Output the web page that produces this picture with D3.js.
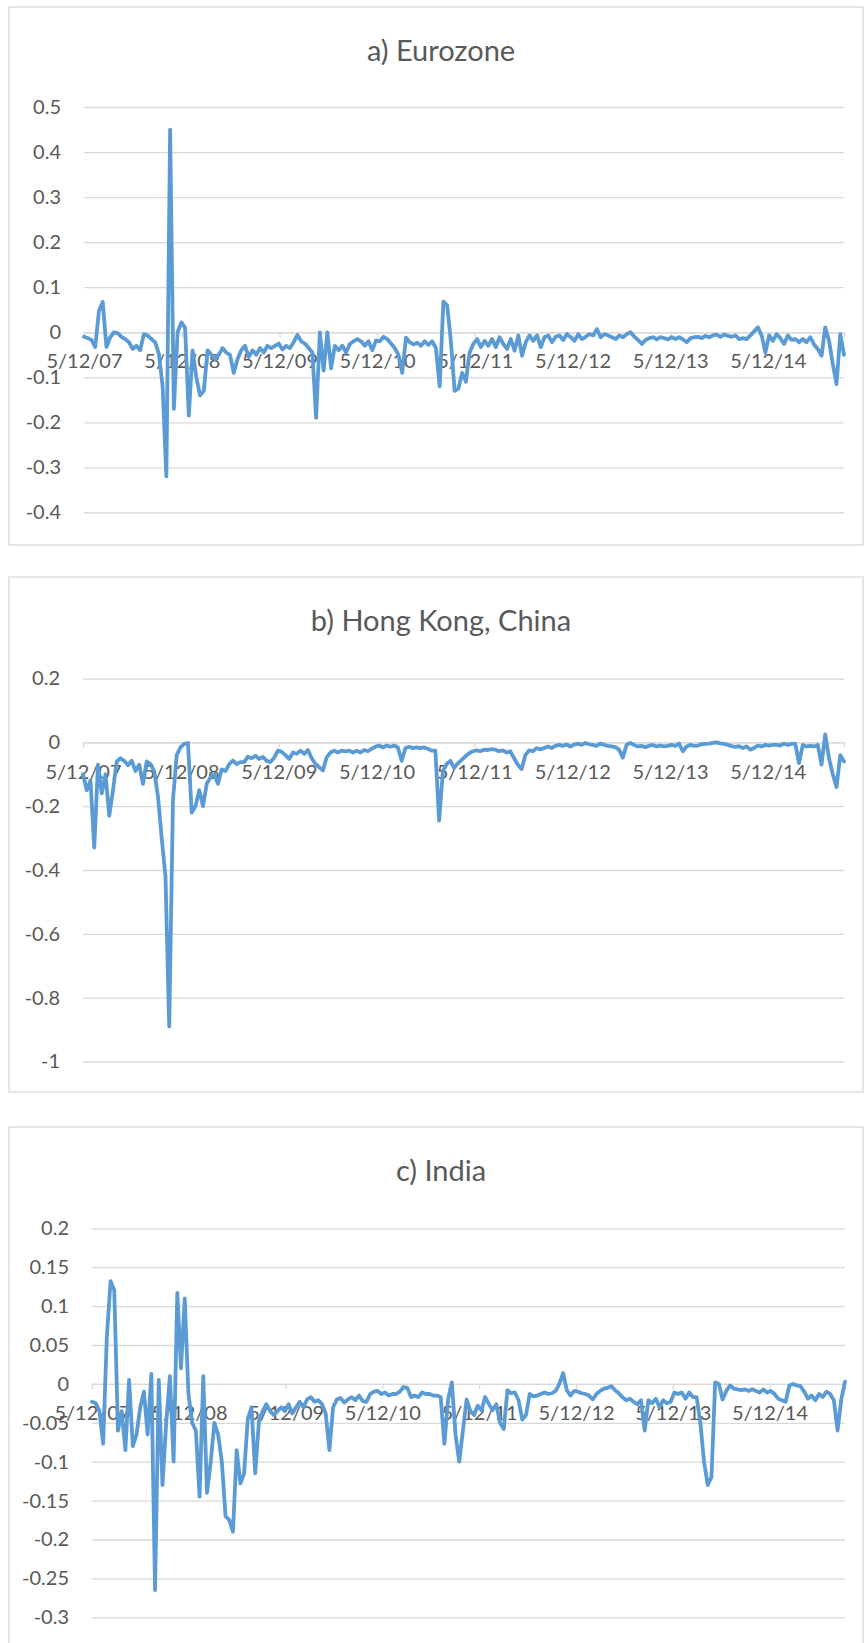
<!DOCTYPE html>
<html>
<head>
<meta charset="utf-8">
<script src="https://cdn.jsdelivr.net/npm/d3@7"></script>
<style>
  body { margin: 0; background: #ffffff; }
  svg { display: block; }
  text { font-family: Lato, "Open Sans", "DejaVu Sans", sans-serif; }
</style>
</head>
<body>
<svg id="chart" width="864" height="1643"></svg>
<script>
// ---------- data ----------
const startDateLabel = "5/12/07";
const stepDays = 14;
const xTickLabels = ["5/12/07", "5/12/08", "5/12/09", "5/12/10", "5/12/11", "5/12/12", "5/12/13", "5/12/14"];

const panelTitles = ["a) Eurozone", "b) Hong Kong, China", "c) India"];

const yTicksEurozone = [0.5, 0.4, 0.3, 0.2, 0.1, 0, -0.1, -0.2, -0.3, -0.4];
const yTicksHongKong = [0.2, 0, -0.2, -0.4, -0.6, -0.8, -1];
const yTicksIndia = [0.2, 0.15, 0.1, 0.05, 0, -0.05, -0.1, -0.15, -0.2, -0.25, -0.3];

const eurozone = [
  -0.01, -0.013, -0.017, -0.033, 0.048, 0.067, -0.033, -0.011, 0.0, -0.002,
  -0.01, -0.015, -0.022, -0.037, -0.03, -0.04, -0.004, -0.007, -0.015, -0.022,
  -0.048, -0.12, -0.32, 0.45, -0.17, 0.0, 0.022, 0.01, -0.185, -0.04,
  -0.1, -0.14, -0.13, -0.04, -0.05, -0.06, -0.05, -0.035, -0.045, -0.05,
  -0.09, -0.06, -0.04, -0.03, -0.055, -0.04, -0.05, -0.035, -0.045, -0.03,
  -0.035, -0.03, -0.025, -0.038, -0.03, -0.035, -0.022, -0.006, -0.02, -0.025,
  -0.035, -0.045, -0.19, 0.0, -0.085, 0.0, -0.08, -0.03, -0.04, -0.03,
  -0.045, -0.026, -0.02, -0.015, -0.02, -0.03, -0.02, -0.04, -0.018, -0.02,
  -0.01, -0.015, -0.025, -0.035, -0.05, -0.09, -0.012, -0.022, -0.027, -0.023,
  -0.03, -0.02, -0.028, -0.02, -0.035, -0.12, 0.068, 0.06, -0.02, -0.13,
  -0.125, -0.09, -0.11, -0.045, -0.026, -0.015, -0.033, -0.019, -0.03, -0.015,
  -0.033, -0.011, -0.026, -0.037, -0.015, -0.041, -0.007, -0.052, -0.022, -0.007,
  -0.019, -0.007, -0.033, -0.011, -0.007, -0.022, -0.01, -0.007, -0.017, -0.004,
  -0.011, -0.019, -0.004, -0.015, -0.01, -0.004, -0.007, 0.007, -0.011, -0.004,
  -0.007, -0.011, -0.015, -0.007, -0.011, -0.004, 0.0, -0.01, -0.017, -0.026,
  -0.017, -0.013, -0.011, -0.016, -0.011, -0.013, -0.016, -0.011, -0.015, -0.011,
  -0.016, -0.022, -0.013, -0.011, -0.01, -0.013, -0.008, -0.011, -0.007, -0.005,
  -0.01, -0.005, -0.008, -0.01, -0.007, -0.015, -0.013, -0.015, -0.007, 0.002,
  0.011, -0.007, -0.045, -0.007, -0.019, -0.004, -0.013, -0.026, -0.007, -0.017,
  -0.015, -0.022, -0.015, -0.022, -0.011, -0.027, -0.037, -0.052, 0.011, -0.019,
  -0.07, -0.115, -0.004, -0.05
];

const hongKong = [
  -0.1, -0.15, -0.12, -0.33, -0.07, -0.16, -0.1, -0.23, -0.15, -0.06,
  -0.05, -0.058, -0.072, -0.058, -0.09, -0.07, -0.13, -0.06, -0.068, -0.09,
  -0.17, -0.3, -0.42, -0.89, -0.18, -0.04, -0.016, -0.005, -0.002, -0.22,
  -0.2, -0.15, -0.2, -0.13, -0.11, -0.1, -0.13, -0.085, -0.09, -0.068,
  -0.057, -0.068, -0.062, -0.062, -0.045, -0.05, -0.042, -0.052, -0.046, -0.058,
  -0.062, -0.048, -0.026, -0.03, -0.04, -0.052, -0.032, -0.036, -0.026, -0.036,
  -0.024, -0.05, -0.068, -0.078, -0.088, -0.047, -0.032, -0.026, -0.032, -0.026,
  -0.028, -0.026, -0.032, -0.026, -0.032, -0.024, -0.028, -0.02, -0.014, -0.01,
  -0.016, -0.01, -0.014, -0.01, -0.016, -0.058, -0.018, -0.014, -0.018, -0.016,
  -0.018, -0.016, -0.02, -0.026, -0.026, -0.245, -0.09, -0.068, -0.058, -0.08,
  -0.066, -0.055, -0.044, -0.034, -0.028, -0.025, -0.028, -0.023, -0.024, -0.021,
  -0.023, -0.028, -0.025, -0.032, -0.028, -0.05, -0.07, -0.084, -0.04, -0.025,
  -0.028, -0.018, -0.022, -0.018, -0.013, -0.018, -0.011, -0.008, -0.011, -0.007,
  -0.013, -0.007, -0.004, -0.008, -0.002, -0.006, -0.008, -0.011, -0.004, -0.008,
  -0.011, -0.013, -0.015, -0.023, -0.048, -0.008, -0.002, -0.008, -0.013, -0.011,
  -0.015, -0.011, -0.008, -0.013, -0.01, -0.013, -0.011, -0.008, -0.011, -0.004,
  -0.028, -0.013, -0.008, -0.011, -0.01, -0.006, -0.005, -0.004, -0.002, 0.0,
  -0.003, -0.005, -0.008, -0.012, -0.014, -0.012, -0.018, -0.013, -0.023, -0.018,
  -0.01, -0.013, -0.008, -0.01, -0.008, -0.008, -0.01, -0.004, -0.008, -0.005,
  -0.004, -0.065, -0.008, -0.013, -0.011, -0.013, -0.008, -0.07, 0.025, -0.05,
  -0.1, -0.14, -0.04, -0.06
];

const india = [
  -0.023, -0.025, -0.035, -0.077, 0.06, 0.132, 0.12, -0.06, -0.035, -0.085,
  0.005, -0.08, -0.065, -0.03, -0.01, -0.065, 0.013, -0.265, 0.005, -0.13,
  -0.05, 0.01, -0.1, 0.117, 0.02, 0.11, -0.013, -0.05, -0.06, -0.145,
  0.01, -0.14, -0.1, -0.05, -0.065, -0.1, -0.17, -0.175, -0.19, -0.085,
  -0.128, -0.115, -0.045, -0.03, -0.115, -0.048, -0.035, -0.026, -0.035, -0.04,
  -0.035, -0.03, -0.035, -0.026, -0.038, -0.03, -0.023, -0.03, -0.02, -0.017,
  -0.023, -0.021, -0.026, -0.038, -0.085, -0.03, -0.02, -0.018, -0.024, -0.02,
  -0.017, -0.021, -0.015, -0.022, -0.023, -0.013, -0.01, -0.009, -0.013, -0.011,
  -0.015, -0.013, -0.013, -0.01, -0.004, -0.005, -0.017, -0.015, -0.017, -0.011,
  -0.013, -0.013, -0.015, -0.015, -0.017, -0.077, -0.02, 0.002, -0.065, -0.1,
  -0.06, -0.02, -0.035, -0.04, -0.028, -0.034, -0.017, -0.026, -0.034, -0.026,
  -0.05, -0.058, -0.008, -0.012, -0.011, -0.021, -0.046, -0.04, -0.013, -0.016,
  -0.015, -0.013, -0.011, -0.013, -0.012, -0.009, 0.0, 0.014, -0.008, -0.015,
  -0.009, -0.01, -0.012, -0.013, -0.015, -0.02, -0.013, -0.009, -0.006, -0.005,
  -0.003, -0.008, -0.012, -0.017, -0.021, -0.019, -0.023, -0.026, -0.021, -0.06,
  -0.021, -0.025, -0.019, -0.03, -0.021, -0.025, -0.023, -0.011, -0.013, -0.011,
  -0.019, -0.011, -0.017, -0.017, -0.05, -0.1, -0.13, -0.12, 0.002, 0.0,
  -0.02, -0.009, -0.002, -0.006, -0.007, -0.008, -0.007, -0.009, -0.007, -0.009,
  -0.011, -0.007, -0.011, -0.009, -0.013, -0.019, -0.021, -0.023, -0.002, 0.0,
  -0.002, -0.003, -0.01, -0.019, -0.015, -0.021, -0.013, -0.017, -0.01, -0.013,
  -0.021, -0.06, -0.02, 0.003
];

// ---------- layout ----------
const W = 864, H = 1643;
const lineColor = "#5b9bd5";
const gridColor = "#d9d9d9";
const textColor = "#595959";
const tickFont = 20;
const titleFont = 29;

const panels = [
  { title: panelTitles[0], values: eurozone, yTicks: yTicksEurozone,
    box: { top: 7, bottom: 545 }, plot: { left: 84, right: 844, top: 107, bottom: 512.5 } },
  { title: panelTitles[1], values: hongKong, yTicks: yTicksHongKong,
    box: { top: 577, bottom: 1092 }, plot: { left: 83, right: 844, top: 678.5, bottom: 1061.5 } },
  { title: panelTitles[2], values: india, yTicks: yTicksIndia,
    box: { top: 1127, bottom: 1700 }, plot: { left: 92, right: 845, top: 1228.3, bottom: 1617.3 } }
];

const parseDate = d3.timeParse("%m/%d/%y");
const fmtDate = d3.timeFormat("%-m/%d/%y");
const startDate = parseDate(startDateLabel);
const tickDates = xTickLabels.map(parseDate);
const fmtY = d => String(+(+d).toFixed(2));

const svg = d3.select("#chart");
svg.append("rect").attr("width", W).attr("height", H).attr("fill", "#fff");

panels.forEach(p => {
  const g = svg.append("g");
  const n = p.values.length;
  const series = p.values.map((v, i) => ({ date: d3.timeDay.offset(startDate, stepDays * i), value: v }));

  // chart border
  g.append("rect")
    .attr("x", 9).attr("y", p.box.top)
    .attr("width", W - 10).attr("height", p.box.bottom - p.box.top)
    .attr("fill", "#fff").attr("stroke", gridColor).attr("stroke-width", 1.3);

  // title
  g.append("text")
    .attr("x", 441).attr("y", p.box.top + 44).attr("dy", "0.36em")
    .attr("text-anchor", "middle")
    .attr("font-size", titleFont).attr("fill", textColor)
    .text(p.title);

  const x = d3.scaleTime()
    .domain([startDate, d3.timeDay.offset(startDate, stepDays * (n - 1))])
    .range([p.plot.left, p.plot.right]);
  const y = d3.scaleLinear()
    .domain([d3.min(p.yTicks), d3.max(p.yTicks)])
    .range([p.plot.bottom, p.plot.top]);

  // y axis with gridlines
  const yAxis = g.append("g")
    .attr("transform", `translate(${p.plot.left},0)`)
    .call(d3.axisLeft(y).tickValues(p.yTicks).tickFormat(fmtY)
      .tickSize(-(p.plot.right - p.plot.left)).tickPadding(23));
  yAxis.select(".domain").remove();
  yAxis.selectAll(".tick line").attr("stroke", gridColor).attr("stroke-width", 1.3);
  yAxis.selectAll(".tick text").attr("fill", textColor).attr("font-size", tickFont)
    .attr("font-family", "Lato, 'Open Sans', sans-serif");

  // x axis at zero
  const xAxis = g.append("g")
    .attr("transform", `translate(0,${y(0)})`)
    .call(d3.axisBottom(x).tickValues(tickDates).tickFormat(fmtDate)
      .tickSize(5).tickPadding(17));
  xAxis.select(".domain").attr("stroke", gridColor).attr("stroke-width", 1.3);
  xAxis.selectAll(".tick line").attr("stroke", gridColor).attr("stroke-width", 1.3);
  xAxis.selectAll(".tick text").attr("fill", textColor).attr("font-size", tickFont)
    .attr("font-family", "Lato, 'Open Sans', sans-serif");

  // series line
  const line = d3.line().x(d => x(d.date)).y(d => y(d.value));
  g.append("path")
    .datum(series)
    .attr("d", line)
    .attr("fill", "none")
    .attr("stroke", lineColor)
    .attr("stroke-width", 3.8)
    .attr("stroke-linejoin", "round")
    .attr("stroke-linecap", "round");
});
</script>
</body>
</html>
